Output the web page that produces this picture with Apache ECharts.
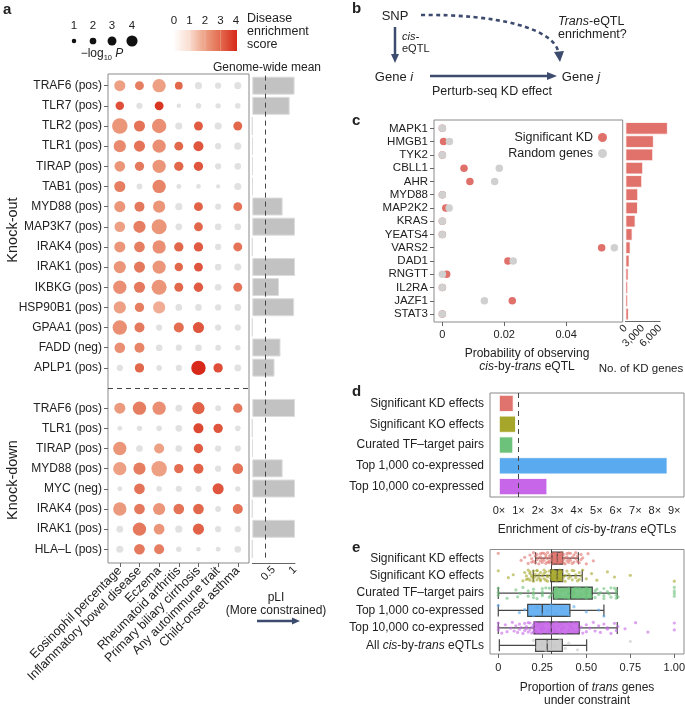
<!DOCTYPE html>
<html><head><meta charset="utf-8">
<script src="https://cdn.jsdelivr.net/npm/echarts@6/dist/echarts.min.js"></script>
<style>html,body{margin:0;padding:0;background:#fff}#c{width:685px;height:708px}</style>
</head><body><div id="c"></div>
<script>
// ================= DATA =================
// Panel a
const koGenes = ['TRAF6 (pos)','TLR7 (pos)','TLR2 (pos)','TLR1 (pos)','TIRAP (pos)','TAB1 (pos)','MYD88 (pos)','MAP3K7 (pos)','IRAK4 (pos)','IRAK1 (pos)','IKBKG (pos)','HSP90B1 (pos)','GPAA1 (pos)','FADD (neg)','APLP1 (pos)'];
const kdGenes = ['TRAF6 (pos)','TLR1 (pos)','TIRAP (pos)','MYD88 (pos)','MYC (neg)','IRAK4 (pos)','IRAK1 (pos)','HLA\u2013L (pos)'];
const diseases = ['Eosinophil percentage','Inflammatory bowel disease','Eczema','Rheumatoid arthritis','Primary biliary cirrhosis','Any autoimmune trait','Child-onset asthma'];
// -log10 P per gene (rows) x disease (cols)
const koLogP = [
  [4.0,3.0,5.0,2.5,2.2,1.8,2.2],
  [2.8,1.8,3.0,1.0,1.5,1.4,1.5],
  [6.0,4.0,5.5,2.2,3.0,2.2,3.0],
  [4.5,4.0,5.0,3.0,3.5,1.8,2.2],
  [3.8,3.2,5.0,3.2,3.2,1.8,2.0],
  [4.0,1.6,5.0,1.2,1.1,0.9,2.2],
  [4.0,3.5,4.5,2.2,3.0,1.7,3.0],
  [3.8,4.5,5.8,2.0,3.0,2.0,2.0],
  [4.0,3.8,5.0,3.2,3.2,1.8,3.0],
  [4.5,4.0,5.0,2.8,3.0,2.0,2.2],
  [5.0,4.0,5.8,3.0,3.2,2.0,3.0],
  [4.5,3.2,4.5,2.0,2.0,1.8,2.0],
  [5.5,3.5,1.8,3.5,4.0,1.8,1.8],
  [3.8,3.5,2.0,1.8,2.0,1.6,1.5],
  [1.8,3.2,1.5,1.8,5.5,3.2,2.0]
];
// disease enrichment score (null = not significant, grey)
const koScore = [
  [2.0,2.6,2.0,3.0,null,null,null],
  [3.4,null,3.8,null,null,null,null],
  [2.2,2.8,2.3,null,3.2,null,3.0],
  [2.4,2.8,2.3,3.0,3.3,null,null],
  [2.2,2.7,2.2,3.0,3.3,null,null],
  [2.6,null,2.5,null,null,null,null],
  [2.2,2.7,2.2,null,3.1,null,2.8],
  [2.0,2.6,2.2,null,3.0,null,null],
  [2.2,2.6,2.3,3.0,3.2,null,2.8],
  [2.2,2.7,2.2,3.0,3.3,null,null],
  [2.3,2.7,2.2,3.0,3.2,null,2.8],
  [2.0,2.6,1.8,null,null,null,null],
  [2.3,2.7,null,2.9,3.3,null,null],
  [2.3,2.5,null,null,null,null,null],
  [null,3.0,null,null,4.0,3.4,null]
];
const kdLogP = [
  [4.0,5.0,5.0,2.0,4.5,1.6,3.2],
  [1.2,1.4,1.5,2.0,3.5,3.2,1.5],
  [5.0,2.0,3.5,2.0,3.2,1.8,1.8],
  [5.0,4.5,6.0,3.2,3.5,1.8,3.8],
  [1.2,3.8,1.5,1.8,1.8,4.0,1.4],
  [5.0,3.8,4.5,3.8,3.8,1.6,3.5],
  [2.0,5.0,3.8,2.2,4.0,1.8,1.8],
  [2.2,3.8,3.5,1.4,1.0,1.2,2.0]
];
const kdScore = [
  [2.1,2.6,2.3,null,3.1,null,2.7],
  [null,null,null,null,3.5,3.3,null],
  [2.2,null,2.0,null,3.2,null,null],
  [2.0,2.6,2.0,2.9,3.1,null,2.8],
  [null,2.8,null,null,null,3.3,null],
  [2.1,2.7,2.2,2.8,3.0,null,2.8],
  [null,2.7,2.2,null,3.1,null,null],
  [null,2.7,2.6,null,null,null,null]
];
const koPLI = [0.99,0.875,0,0.01,0.01,0.01,0.71,1.0,0,1.0,0.625,0.98,0,0.66,0.52];
const kdPLI = [1.0,0,0.01,0.71,1.0,0,1.0,0];
const pliMean = 0.3;
const pliTicks = [0,0.5,1];
const pliLabels = [0.5,1];
const sizeLegend = [1,2,3,4];
const scoreTicks = [0,1,2,3,4];

// Panel c
const cGenes = ['MAPK1','HMGB1','TYK2','CBLL1','AHR','MYD88','MAP2K2','KRAS','YEATS4','VARS2','DAD1','RNGTT','IL2RA','JAZF1','STAT3'];
const cSigKD  = [0,0.0004,0,0.0070,0.0089,0,0.0011,0,0,0.0515,0.0212,0.0014,0,0.0226,0];
const cRandom = [0,0.0023,0,0.0184,0.0169,0,0.0022,0,0,0.0556,0.0229,0,0,0.0136,0];
const cKDcount = [7330,4900,4790,3050,2880,2190,2150,1730,1210,870,690,520,450,450,560];
const cTicks = [0,0.02,0.04];
const cBarTicks = [0,3000,6000];

// Panel d
const dCats = ['Significant KD effects','Significant KO effects','Curated TF\u2013target pairs','Top 1,000 co-expressed','Top 10,000 co-expressed'];
const dEnrich = [0.75,0.87,0.73,8.65,2.48];
const dTicks = [0,1,2,3,4,5,6,7,8,9];
const dRef = 1;

// Panel e
const eCats = ['Significant KD effects','Significant KO effects','Curated TF\u2013target pairs','Top 1,000 co-expressed','Top 10,000 co-expressed','All {i|cis}-by-{i|trans} eQTLs'];
// [min, Q1, median, Q3, max]
const eBox = [
  [0.212,0.305,0.335,0.366,0.455],
  [0.199,0.298,0.335,0.366,0.477],
  [0.0,0.3125,0.411,0.534,0.676],
  [0.0,0.167,0.25,0.407,0.60],
  [0.0,0.203,0.301,0.46,0.676],
  [0.006,0.212,0.278,0.364,0.502]
];
const ePts = [
  [0.0,0.13,0.15,0.17,0.18,0.19,0.19,0.2,0.2,0.21,0.21,0.22,0.22,0.23,0.23,0.24,0.24,0.24,0.25,0.25,0.25,0.26,0.26,0.27,0.27,0.27,0.28,0.28,0.28,0.29,0.29,0.29,0.3,0.3,0.3,0.31,0.31,0.31,0.32,0.32,0.32,0.33,0.33,0.33,0.34,0.34,0.35,0.35,0.35,0.36,0.36,0.36,0.37,0.37,0.37,0.38,0.38,0.39,0.39,0.39,0.4,0.4,0.4,0.41,0.41,0.42,0.42,0.43,0.43,0.44,0.44,0.45,0.45,0.46,0.47,0.47,0.48,0.5,0.51,0.54],
  [0.0,0.057,0.085,0.14,0.15,0.16,0.16,0.17,0.17,0.18,0.18,0.18,0.19,0.19,0.2,0.2,0.2,0.21,0.21,0.22,0.22,0.22,0.23,0.23,0.24,0.24,0.24,0.25,0.26,0.26,0.26,0.27,0.27,0.28,0.28,0.28,0.29,0.3,0.3,0.3,0.31,0.31,0.31,0.32,0.32,0.33,0.33,0.34,0.34,0.35,0.35,0.35,0.36,0.36,0.37,0.38,0.38,0.39,0.4,0.4,0.41,0.42,0.42,0.43,0.44,0.44,0.45,0.46,0.46,0.47,0.48,0.5,0.53,0.56,0.62,0.66,0.75,1.0],
  [0,0,0,0.05,0.1,0.11,0.125,0.14,0.17,0.17,0.2,0.2,0.2,0.2,0.22,0.25,0.25,0.25,0.25,0.27,0.29,0.29,0.3,0.31,0.33,0.33,0.33,0.33,0.33,0.35,0.36,0.38,0.38,0.4,0.4,0.4,0.4,0.42,0.43,0.43,0.44,0.45,0.46,0.47,0.5,0.5,0.5,0.5,0.5,0.5,0.53,0.55,0.55,0.56,0.57,0.58,0.6,0.6,0.6,0.62,0.63,0.64,0.64,0.66,0.67,0.67,0.67,0.67,0.68,1.0,1.0,1.0,1.0],
  [0.0,0.12,0.15,0.2,0.22,0.25,0.28,0.3,0.33,0.36,0.4,0.43,0.5,0.57,0.6],
  [0,0,0,0.02,0.04,0.05,0.07,0.08,0.09,0.1,0.11,0.12,0.12,0.13,0.14,0.15,0.15,0.16,0.16,0.17,0.17,0.18,0.18,0.19,0.19,0.2,0.2,0.2,0.21,0.21,0.22,0.22,0.23,0.24,0.24,0.24,0.25,0.25,0.25,0.26,0.27,0.28,0.28,0.29,0.3,0.3,0.31,0.32,0.32,0.33,0.33,0.34,0.35,0.36,0.36,0.37,0.38,0.4,0.4,0.41,0.42,0.43,0.44,0.45,0.46,0.47,0.48,0.5,0.5,0.52,0.54,0.55,0.57,0.58,0.6,0.62,0.62,0.64,0.66,0.67,0.68,0.72,0.78,0.85,1.0,1.0],
  [0.2,0.22,0.25,0.27,0.28,0.3,0.32,0.35,0.38,0.4,0.45,0.75]
];
const eMean = 0.305;
const eTicks = [0,0.25,0.5,0.75,1];

// ================= STYLE / HELPERS =================
const FONT = "'Liberation Sans', Arial, Helvetica, sans-serif";
const TXT = '#222';
const BORDER = '#8a8a8a';
const TICK = '#666';
const NAVY = '#3d4b6e';
const groupColors = ['#e0736d','#a6a62b','#6cc27a','#5aaaf0','#c766e8','#c8c8c8'];
const jit = [-0.28,0.12,-0.05,0.3,-0.18,0.22,0.02,-0.32,0.18,-0.12,0.26,-0.22,0.08,-0.02,0.32,-0.26,0.15,-0.08,0.05,-0.3,0.24];

const cStops = [[255,255,255],[250,222,210],[237,160,132],[226,104,76],[215,40,25]];
function scoreColor(s){
  s = Math.max(0, Math.min(4, s));
  const i = Math.min(3, Math.floor(s)), t = s - i, a = cStops[i], b = cStops[i+1];
  return 'rgb(' + a.map((v,k)=>Math.round(v+(b[k]-v)*t)).join(',') + ')';
}
function dotSize(p){ return 2.3 + 2.2*p; }

const rowNames = {};
koGenes.forEach((g,i)=>rowNames[i]=g);
kdGenes.forEach((g,i)=>rowNames[16+i]=g);
const rowIdx = Object.keys(rowNames).map(Number);
const slots = [];
for (let i=0;i<24;i++) slots.push(rowNames[i] !== undefined ? ('r'+i) : 'gap');

const aDots = [];
koLogP.forEach((row,r)=>row.forEach((p,c)=>aDots.push([c, r, p, koScore[r][c]])));
kdLogP.forEach((row,r)=>row.forEach((p,c)=>aDots.push([c, 16+r, p, kdScore[r][c]])));
const pliData = koPLI.concat(['-']).concat(kdPLI);

const ePtsData = [];
ePts.forEach((arr,k)=>arr.forEach((x,i)=>ePtsData.push([x, k + jit[i % jit.length], k])));

function arrowParts(x1,y1,x2,y2,w,hl,hw,color){
  const ang = Math.atan2(y2-y1, x2-x1), ca=Math.cos(ang), sa=Math.sin(ang);
  const bx = x2 - hl*ca, by = y2 - hl*sa;
  return [
    {type:'line', shape:{x1:x1,y1:y1,x2:bx+ca,y2:by+sa}, style:{stroke:color, lineWidth:w}},
    {type:'polygon', shape:{points:[[x2,y2],[bx - hw*sa, by + hw*ca],[bx + hw*sa, by - hw*ca]]}, style:{fill:color}}
  ];
}
function txt(x,y,text,opt){
  opt = opt || {};
  return {type:'text', x:x, y:y, rotation:opt.rot||0, style:Object.assign({text:text, fill:TXT, font:(opt.bold?'bold ':'')+(opt.italic?'italic ':'')+(opt.size||12)+'px '+FONT, align:opt.align||'center', verticalAlign:opt.va||'middle'}, opt.rich?{rich:opt.rich}:{})};
}
const itRich = (sz)=>({i:{fontStyle:'italic', fontSize:sz, fontFamily:FONT, fill:TXT, color:TXT}});

// ================= GRAPHIC =================
const graphic = [];
graphic.push(txt(3,10,'a',{bold:true,size:15,align:'left'}));
graphic.push(txt(352,9,'b',{bold:true,size:15,align:'left'}));
graphic.push(txt(352,121,'c',{bold:true,size:15,align:'left'}));
graphic.push(txt(352,392,'d',{bold:true,size:15,align:'left'}));
graphic.push(txt(352,548,'e',{bold:true,size:15,align:'left'}));
const sizeX = [74,93,112,132];
sizeLegend.forEach((p,i)=>{
  graphic.push(txt(sizeX[i],26,String(p),{size:11.5}));
  graphic.push({type:'circle', shape:{cx:sizeX[i], cy:41, r:dotSize(p)/2}, style:{fill:'#111'}});
});
graphic.push({type:'text', x:102, y:54, style:{text:'\u2212log{sub|10} {it|P}', fill:TXT, font:'12px '+FONT, align:'center', verticalAlign:'middle',
  rich:{sub:{fontSize:7.5, fontFamily:FONT, padding:[7,0,0,0]}, it:{fontStyle:'italic', fontSize:12, fontFamily:FONT}}}});
graphic.push({type:'rect', shape:{x:173,y:30,width:64,height:21}, style:{fill:{type:'linear',x:0,y:0,x2:1,y2:0,colorStops:cStops.map((c,i)=>({offset:i/4,color:'rgb('+c.join(',')+')'}))}}});
scoreTicks.forEach((s,i)=>{
  const x = 174 + i*15.5;
  graphic.push(txt(x,21,String(s),{size:11.5}));
  if (i>0 && i<4) graphic.push({type:'line', shape:{x1:x,y1:30,x2:x,y2:51}, style:{stroke:'rgba(255,255,255,0.35)', lineWidth:0.6}});
});
graphic.push(txt(247,19,'Disease',{size:12.5,align:'left'}));
graphic.push(txt(247,32,'enrichment',{size:12.5,align:'left'}));
graphic.push(txt(247,45,'score',{size:12.5,align:'left'}));
graphic.push(txt(267,68,'Genome-wide mean',{size:12}));
graphic.push(txt(13,230,'Knock-out',{size:14.5,rot:Math.PI/2}));
graphic.push(txt(13,480,'Knock-down',{size:14.5,rot:Math.PI/2}));
graphic.push(txt(276,598,'pLI',{size:12}));
graphic.push(txt(276,611,'(More constrained)',{size:12}));
graphic.push(...arrowParts(257,621,300,621,2.5,8,3.5,NAVY));
// panel b diagram
graphic.push(txt(395,16,'SNP',{size:13}));
graphic.push(...arrowParts(395,27,395,63,2.5,9,4,NAVY));
graphic.push(txt(402,37,'cis-',{size:11,align:'left',italic:true}));
graphic.push(txt(402,49,'eQTL',{size:11,align:'left'}));
graphic.push({type:'text', x:394, y:77, style:{text:'Gene {i|i}', fill:TXT, font:'13px '+FONT, align:'center', verticalAlign:'middle', rich:itRich(13)}});
graphic.push(...arrowParts(430,76,557,76,2.5,10,4,NAVY));
graphic.push({type:'text', x:581, y:77, style:{text:'Gene {i|j}', fill:TXT, font:'13px '+FONT, align:'center', verticalAlign:'middle', rich:itRich(13)}});
graphic.push(txt(492,92,'Perturb-seq KD effect',{size:12.5}));
graphic.push({type:'bezierCurve', shape:{x1:421,y1:15,cpx1:495,cpy1:14,cpx2:555,cpy2:28,x2:558.5,y2:53}, style:{stroke:NAVY, lineWidth:2.6, lineDash:[4,3.5], fill:null}});
graphic.push({type:'polygon', shape:{points:[[560,62],[554,52],[564,51]]}, style:{fill:NAVY}});
graphic.push({type:'text', x:558, y:22, style:{text:'{i|Trans}-eQTL', fill:TXT, font:'12.5px '+FONT, align:'left', verticalAlign:'middle', rich:itRich(12.5)}});
graphic.push(txt(558,35,'enrichment?',{size:12.5,align:'left'}));
// axis names
graphic.push(txt(527,354,'Probability of observing',{size:12}));
graphic.push({type:'text', x:527, y:367, style:{text:'{i|cis}-by-{i|trans} eQTL', fill:TXT, font:'12px '+FONT, align:'center', verticalAlign:'middle', rich:itRich(12)}});
graphic.push(txt(641,369,'No. of KD genes',{size:11.5}));
graphic.push({type:'text', x:587, y:530, style:{text:'Enrichment of {i|cis}-by-{i|trans} eQTLs', fill:TXT, font:'12px '+FONT, align:'center', verticalAlign:'middle', rich:itRich(12)}});
graphic.push({type:'text', x:587, y:688, style:{text:'Proportion of {i|trans} genes', fill:TXT, font:'12px '+FONT, align:'center', verticalAlign:'middle', rich:itRich(12)}});
graphic.push(txt(587,701,'under constraint',{size:12}));

// ================= AXES =================
const lbl = (sz)=>({color:TXT, fontSize:sz, fontFamily:FONT});
const tickStyle = {lineStyle:{color:TICK, width:1}, length:4};
const noLine = {show:false, onZero:false};
const grids = [
  {left:108, top:74, width:141, height:489, show:true, borderColor:BORDER, borderWidth:1},
  {left:252.3, top:75.6, width:42.7, height:483.4},
  {left:434, top:120, width:188.7, height:202, show:true, borderColor:BORDER, borderWidth:1},
  {left:625.5, top:121.7, width:34.6, height:199},
  {left:490, top:393, width:194, height:104, show:true, borderColor:BORDER, borderWidth:1},
  {left:490, top:549.5, width:194, height:104.5, show:true, borderColor:BORDER, borderWidth:1}
].map(g=>Object.assign({outerBoundsMode:'none', containLabel:false}, g));

const xAxes = [
  {gridIndex:0, type:'value', min:-0.6, max:6.57, axisLine:noLine, splitLine:{show:false},
   axisTick:Object.assign({customValues:[0,1,2,3,4,5,6]}, tickStyle),
   axisLabel:Object.assign({customValues:[0,1,2,3,4,5,6], rotate:45, margin:6, formatter:v=>diseases[Math.round(v)]}, lbl(12.5))},
  {gridIndex:1, type:'value', min:0, max:1, offset:4, axisLine:{show:true, onZero:false, lineStyle:{color:TICK}}, splitLine:{show:false},
   axisTick:Object.assign({customValues:pliTicks}, tickStyle),
   axisLabel:Object.assign({customValues:pliLabels, rotate:45, margin:5, formatter:v=>String(v)}, lbl(11))},
  {gridIndex:2, type:'value', min:-0.0027, max:0.0583, axisLine:noLine, splitLine:{show:false},
   axisTick:Object.assign({customValues:cTicks}, tickStyle),
   axisLabel:Object.assign({customValues:cTicks, margin:7, formatter:v=>v===0?'0':String(+v.toFixed(2))}, lbl(11))},
  {gridIndex:3, type:'value', min:0, max:6000, offset:1, axisLine:{show:true, onZero:false, lineStyle:{color:TICK}}, splitLine:{show:false},
   axisTick:Object.assign({customValues:cBarTicks}, tickStyle),
   axisLabel:Object.assign({customValues:cBarTicks, rotate:45, margin:5, formatter:v=>v.toLocaleString('en-US')}, lbl(10.5))},
  {gridIndex:4, type:'value', min:-0.46, max:9.5, axisLine:noLine, splitLine:{show:false},
   axisTick:Object.assign({customValues:dTicks}, tickStyle),
   axisLabel:Object.assign({customValues:dTicks, margin:8, formatter:v=>Math.round(v)+'\u00d7'}, lbl(11))},
  {gridIndex:5, type:'value', min:-0.047, max:1.055, axisLine:noLine, splitLine:{show:false},
   axisTick:Object.assign({customValues:eTicks}, tickStyle),
   axisLabel:Object.assign({customValues:eTicks, margin:8, formatter:v=>v===0?'0':v.toFixed(2)}, lbl(11))}
];
const yAxes = [
  {gridIndex:0, type:'value', inverse:true, min:-0.58, max:23.68, axisLine:noLine, splitLine:{show:false},
   axisTick:Object.assign({customValues:rowIdx}, tickStyle),
   axisLabel:Object.assign({customValues:rowIdx, margin:6, formatter:v=>rowNames[Math.round(v)]||''}, lbl(12))},
  {gridIndex:1, type:'category', inverse:true, data:slots, show:false, axisLine:{onZero:false}},
  {gridIndex:2, type:'value', inverse:true, min:-0.63, max:14.6, axisLine:noLine, splitLine:{show:false},
   axisTick:Object.assign({customValues:cGenes.map((g,i)=>i)}, tickStyle),
   axisLabel:Object.assign({customValues:cGenes.map((g,i)=>i), margin:6, formatter:v=>cGenes[Math.round(v)]}, lbl(11.5))},
  {gridIndex:3, type:'category', inverse:true, data:cGenes, show:false, axisLine:{onZero:false}},
  {gridIndex:4, type:'category', inverse:true, data:dCats, axisLine:noLine,
   axisTick:Object.assign({alignWithLabel:true}, tickStyle), axisLabel:Object.assign({margin:6}, lbl(12))},
  {gridIndex:5, type:'category', inverse:true, data:eCats, axisLine:noLine,
   axisTick:Object.assign({alignWithLabel:true}, tickStyle), axisLabel:Object.assign({margin:6, rich:itRich(12)}, lbl(12))},
  {gridIndex:5, type:'value', inverse:true, min:-0.5, max:5.5, show:false, position:'right', axisLine:{onZero:false}}
];

// ================= SERIES =================
const series = [
  {type:'scatter', xAxisIndex:0, yAxisIndex:0, data:aDots, symbolSize:v=>dotSize(v[2]),
   itemStyle:{color:p=>p.data[3]==null ? '#e1e1e1' : scoreColor(p.data[3]), opacity:1},
   markLine:{silent:true, symbol:'none', label:{show:false}, lineStyle:{color:'#444', type:[5,4], width:1}, data:[{yAxis:15}]}},
  {type:'bar', xAxisIndex:1, yAxisIndex:1, data:pliData, barWidth:18,
   itemStyle:{color:'#c2c2c2', borderColor:'#dcdcdc', borderWidth:1},
   markLine:{silent:true, symbol:'none', label:{show:false}, lineStyle:{color:'#444', type:[5,4], width:1}, data:[{xAxis:pliMean}]}},
  {type:'scatter', name:'Significant KD', xAxisIndex:2, yAxisIndex:2, data:cSigKD.map((x,i)=>[x,i]), symbolSize:7.5, itemStyle:{color:'#e0706a', opacity:1}},
  {type:'scatter', name:'Random genes', xAxisIndex:2, yAxisIndex:2, data:cRandom.map((x,i)=>[x,i]), symbolSize:7.5, itemStyle:{color:'#d0d0d0', opacity:1}},
  {type:'bar', xAxisIndex:3, yAxisIndex:3, data:cKDcount, clip:false, barCategoryGap:'6%',
   itemStyle:{color:'#e0716b', borderColor:'#ffffff', borderWidth:0.8}},
  {type:'bar', xAxisIndex:4, yAxisIndex:4, data:dEnrich.map((v,i)=>({value:v, itemStyle:{color:groupColors[i]}})), barWidth:17,
   itemStyle:{borderColor:'#ffffff', borderWidth:0.8},
   markLine:{silent:true, symbol:'none', label:{show:false}, lineStyle:{color:'#444', type:[5,4], width:1}, data:[{xAxis:dRef}]}},
  {type:'boxplot', xAxisIndex:5, yAxisIndex:5, boxWidth:[12,12], z:2,
   data:eBox.map((b,i)=>({value:b, itemStyle:{color:groupColors[i], opacity:0.9}})),
   itemStyle:{borderColor:'#333', borderWidth:1.2}},
  {type:'scatter', xAxisIndex:5, yAxisIndex:6, data:ePtsData, symbolSize:3.2, z:3,
   itemStyle:{color:p=>groupColors[p.data[2]], opacity:0.6},
   markLine:{silent:true, symbol:'none', label:{show:false}, z:1, lineStyle:{color:'#444', type:'solid', width:1}, data:[{xAxis:eMean}]}}
];

const option = {
  animation:false,
  backgroundColor:'#fff',
  textStyle:{fontFamily:FONT},
  grid:grids, xAxis:xAxes, yAxis:yAxes, series:series,
  legend:{data:['Significant KD','Random genes'], orient:'vertical', right:73, top:126, align:'right',
    icon:'circle', itemWidth:9, itemHeight:9, itemGap:3, textStyle:{fontSize:12.5, color:TXT, fontFamily:FONT}},
  graphic:graphic
};
const chart = echarts.init(document.getElementById('c'));
chart.setOption(option);
</script>
</body></html>
